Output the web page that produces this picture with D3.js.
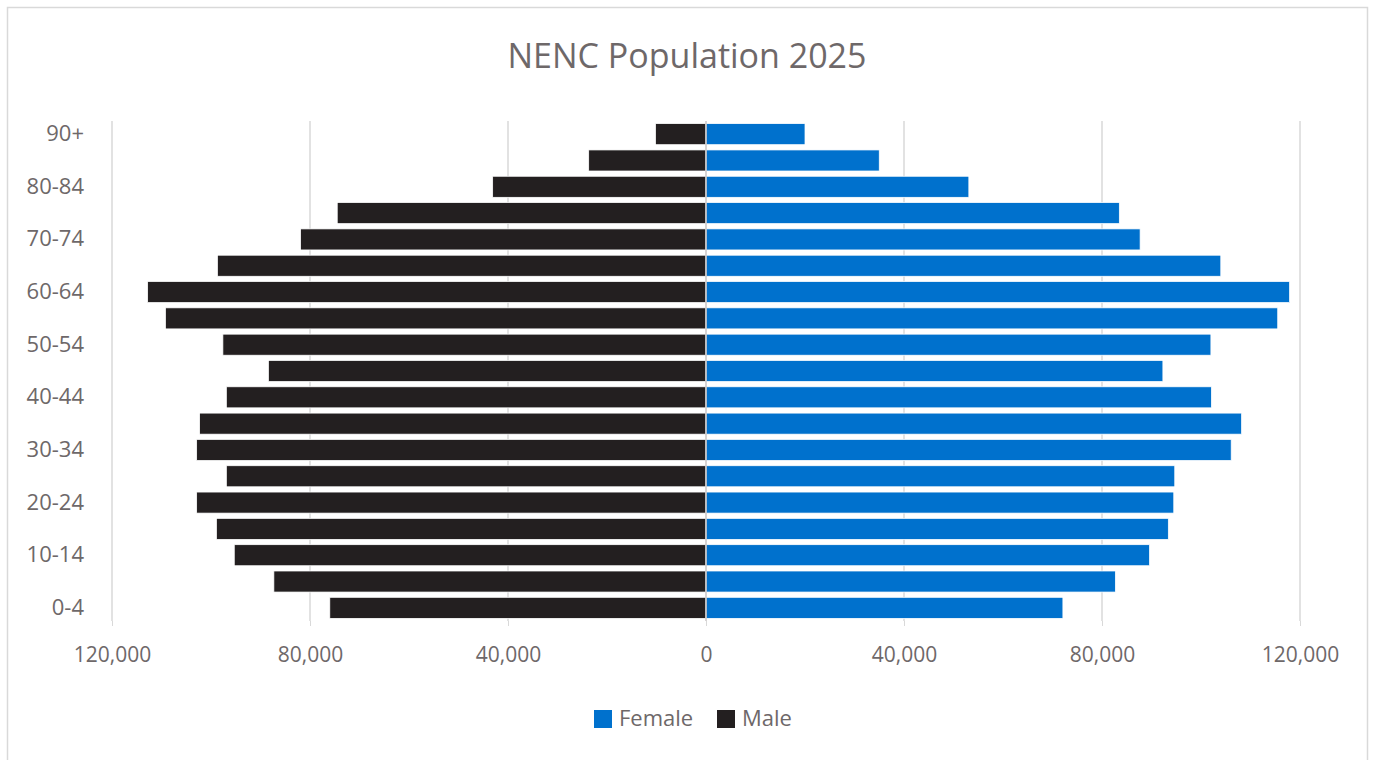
<!DOCTYPE html>
<html>
<head>
<meta charset="utf-8">
<script src="https://cdn.jsdelivr.net/npm/d3@7"></script>
<style>
  html, body { margin: 0; padding: 0; background: #fff; }
  svg { display: block; font-family: "Open Sans", "Noto Sans", sans-serif; }
</style>
</head>
<body>
<svg id="chart" width="1375" height="760"></svg>
<script>
// Age bands, youngest first
const ageGroups = ["0-4","5-9","10-14","15-19","20-24","25-29","30-34","35-39","40-44","45-49",
                   "50-54","55-59","60-64","65-69","70-74","75-79","80-84","85-89","90+"];
// Population by age band
const female = [72100, 82700, 89600, 93400, 94500, 94700, 106100, 108200, 102100, 92300,
                102000, 115500, 117900, 104000, 87700, 83500, 53100, 35000, 20000];
const male   = [76000, 87300, 95300, 98900, 102900, 96900, 102900, 102300, 96900, 88400,
                97600, 109200, 112800, 98700, 81900, 74500, 43100, 23700, 10200];
const xTicks = [-120000, -80000, -40000, 0, 40000, 80000, 120000];
const seriesNames = ["Female", "Male"];
const seriesColors = ["#0071cd", "#231f20"];

const svg = d3.select("#chart");
const textColor = "#6e6869";
const fontStack = "'Open Sans', 'Noto Sans', sans-serif";

// outer frame
svg.append("rect")
  .attr("x", 7.5).attr("y", 7.5).attr("width", 1360).attr("height", 760)
  .attr("fill", "#fff").attr("stroke", "#d9d9d9").attr("stroke-width", 1.5);

const x = d3.scaleLinear().domain([-120000, 120000]).range([112, 1300]);
const y = d3.scaleBand().domain(ageGroups.slice().reverse()).range([121, 621])
  .paddingInner(0.2).paddingOuter(0.1);

// title
svg.append("text")
  .attr("x", 687).attr("y", 68)
  .attr("text-anchor", "middle")
  .attr("font-size", 34).attr("fill", textColor)
  .text("NENC Population 2025");

// vertical gridlines
svg.append("g").selectAll("line")
  .data(xTicks.filter(d => d !== 0))
  .join("line")
  .attr("x1", d => x(d)).attr("x2", d => x(d))
  .attr("y1", 121).attr("y2", 621)
  .attr("stroke", "#d9d9d9").attr("stroke-width", 1.5);

// bars
const rows = ageGroups.map((g, i) => ({ g, f: female[i], m: male[i] }));
svg.append("g").selectAll("rect")
  .data(rows).join("rect")
  .attr("x", d => x(-d.m)).attr("width", d => x(0) - x(-d.m))
  .attr("y", d => y(d.g)).attr("height", y.bandwidth())
  .attr("fill", seriesColors[1]).attr("stroke", "#fff").attr("stroke-width", 0.75);
svg.append("g").selectAll("rect")
  .data(rows).join("rect")
  .attr("x", x(0)).attr("width", d => x(d.f) - x(0))
  .attr("y", d => y(d.g)).attr("height", y.bandwidth())
  .attr("fill", seriesColors[0]).attr("stroke", "#fff").attr("stroke-width", 0.75);

// vertical axis line at zero
svg.append("line")
  .attr("x1", x(0)).attr("x2", x(0)).attr("y1", 121).attr("y2", 621)
  .attr("stroke", "#c9c5c5").attr("stroke-width", 1.5);

// x axis
const xAxis = d3.axisBottom(x).tickValues(xTicks)
  .tickFormat(d => d3.format(",")(Math.abs(d)))
  .tickSize(5).tickPadding(21);
const gx = svg.append("g").attr("transform", "translate(0,621)").call(xAxis);
gx.select(".domain").remove();
gx.selectAll(".tick line").attr("stroke", "#d9d9d9");
gx.selectAll(".tick text").attr("font-size", 21).attr("fill", textColor)
  .attr("font-family", fontStack);

// y axis (every other label)
const yAxis = d3.axisLeft(y)
  .tickValues(ageGroups.filter((d, i) => i % 2 === 0))
  .tickSize(0).tickPadding(0);
const gy = svg.append("g").attr("transform", "translate(84,0)").call(yAxis);
gy.select(".domain").remove();
gy.selectAll(".tick text").attr("font-size", 22).attr("fill", textColor)
  .attr("font-family", fontStack);

// legend
const legend = svg.append("g");
const legendX = [594, 717];
seriesNames.forEach((name, i) => {
  legend.append("rect")
    .attr("x", legendX[i]).attr("y", 710).attr("width", 18).attr("height", 18)
    .attr("fill", seriesColors[i]);
  legend.append("text")
    .attr("x", legendX[i] + 25).attr("y", 726)
    .attr("font-size", 22).attr("fill", textColor)
    .text(name);
});
</script>
</body>
</html>
